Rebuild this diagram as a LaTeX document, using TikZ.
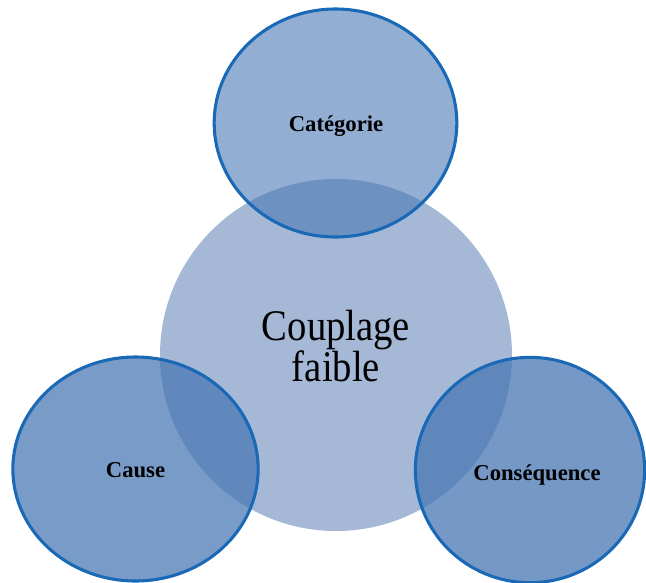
\documentclass[tikz,border=0pt]{standalone}
\usepackage{fontspec}
\setmainfont{Liberation Serif}
\usetikzlibrary{shapes.geometric}
\definecolor{coreblue}{RGB}{165,185,215}
\definecolor{satblue}{RGB}{73,120,180}
\definecolor{rimblue}{RGB}{25,105,182}
\begin{document}
\begin{tikzpicture}[x=0.75pt,y=-0.75pt,
  core/.style={circle, fill=coreblue, draw=none, minimum size=264pt, inner sep=0pt, outer sep=0pt},
  satellite/.style={ellipse, fill=satblue, draw=rimblue, draw opacity=1, line width=2.3pt,
    inner sep=0pt, outer sep=0pt},
  satlabel/.style={font=\bfseries\fontsize{17}{20}\selectfont, anchor=base, text=black, inner sep=0pt},
  corelabel/.style={font=\fontsize{29}{32}\selectfont, anchor=base, text=black, inner sep=0pt}]
\useasboundingbox (0,0) rectangle (646,582);
\node[core] (core) at (336,355) {};
\node[satellite, fill opacity=0.6, minimum width=182pt, minimum height=171pt] (cat) at (335.5,123) {};
\node[satellite, fill opacity=0.74, minimum width=184pt, minimum height=168pt] (cause) at (135.5,469) {};
\node[satellite, fill opacity=0.76, minimum width=172pt, minimum height=169pt] (cons) at (530,470) {};
\node[corelabel] (coreA) at (336,340) {\scalebox{1}[1.13]{Couplage}};
\node[corelabel] (coreB) at (336,381) {\scalebox{1}[1.13]{faible}};
\node[satlabel] (catT) at (336,131) {Catégorie};
\node[satlabel] (causeT) at (135.5,477) {Cause};
\node[satlabel] (consT) at (537,480) {Conséquence};
\end{tikzpicture}
\end{document}
